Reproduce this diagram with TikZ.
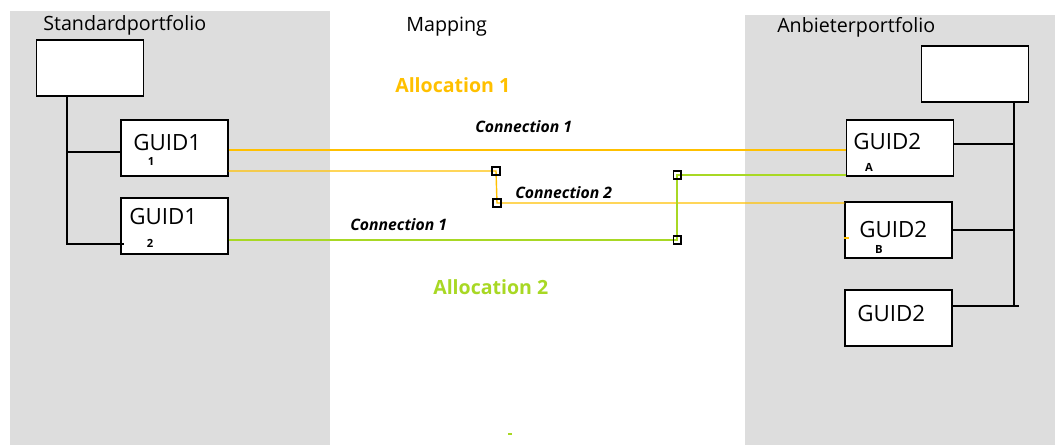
\documentclass[tikz,border=0pt]{standalone}
\usepackage{fontspec}
\setmainfont{Open Sans}
\usepackage{tikz}
\usetikzlibrary{positioning}

\definecolor{panelgray}{HTML}{DDDDDD}
\definecolor{allocyellow}{HTML}{FFC000}
\definecolor{allocgreen}{HTML}{A8D824}

\tikzset{
    guidbox/.style={draw, line width=1pt, fill=white, minimum width=2.675cm, minimum height=1.4cm, inner sep=0pt},
    guidtext/.style={anchor=west, inner sep=0pt, font=\fontsize{15.9}{16}\selectfont},
    subtext/.style={inner sep=0pt, font=\fontsize{8}{9}\selectfont\bfseries},
    headtext/.style={anchor=base west, inner sep=0pt, font=\fontsize{14}{15}\selectfont},
    conntext/.style={anchor=base west, inner sep=0pt, font=\fontsize{11.2}{12}\selectfont\bfseries\itshape},
    tree/.style={line width=1pt},
    yline/.style={allocyellow, line width=1pt},
    gline/.style={allocgreen, line width=1pt},
    handle/.style={draw, line width=1pt, minimum size=0.19cm, inner sep=0pt}
}

\begin{document}
\begin{tikzpicture}[x=0.025cm, y=-0.025cm]
    \useasboundingbox (0,0) rectangle (1055,445);

    % Portfolio panels
    \fill[panelgray] (10,11) rectangle (330,445);
    \fill[panelgray] (745,15) rectangle (1055,445);

    % Headings
    \node[headtext] (hstd) at (43,31) {Standardportfolio};
    \node[headtext] (hmap) at (406,32) {Mapping};
    \node[headtext] (hanb) at (777,33) {Anbieterportfolio};

    % Standard portfolio boxes
    \node[guidbox] (sroot) at (90,68) {};
    \node[guidbox] (s1) at (174.5,148) {};
    \node[guidbox] (s2) at (174.5,226) {};
    \node[guidtext] at (133,143) {GUID1};
    \node[subtext] at (151,161) {1};
    \node[guidtext] at (129,217) {GUID1};
    \node[subtext] at (150,243) {2};

    % Provider portfolio boxes
    \node[guidbox] (aroot) at (975,74) {};
    \node[guidbox] (a1) at (900,148) {};
    \node[guidbox] (a2) at (898.5,230) {};
    \node[guidbox] (a3) at (898.5,318) {};
    \node[guidtext] at (853,142) {GUID2};
    \node[subtext] at (869,167) {A};
    \node[guidtext] at (859,229.5) {GUID2};
    \node[subtext] at (879,249) {B};
    \node[guidtext] at (857,314) {GUID2};

    % Tree lines
    \coordinate (ltrunk) at (67,244);
    \draw[tree] (sroot.south -| ltrunk) -- (ltrunk) -- ++(57,0);
    \draw[tree] (ltrunk |- 0,152) -- (s1.west |- 0,152);
    \coordinate (rtrunk) at (1014,306);
    \draw[tree] (aroot.south -| rtrunk) -- (rtrunk) -- ++(5,0);
    \draw[tree] (a1.east |- 0,144) -- (rtrunk |- 0,144);
    \draw[tree] (a2.east) -- (rtrunk |- a2.east);
    \draw[tree] (a3.east |- rtrunk) -- (rtrunk);

    % Bend handles
    \node[handle] (h1) at (496,171) {};
    \node[handle] (h2) at (497,203) {};
    \node[handle] (h3) at (677,175) {};
    \node[handle] (h4) at (677,240) {};

    % Allocation 1
    \draw[yline] ([yshift=-0.05cm]s1.east) -- ([yshift=-0.05cm]a1.west);
    \draw[yline] (s1.east |- h1) -- (h1.center) -- (h2.center) -- (a2.west |- h2);
    \draw[yline] ([yshift=-0.2cm]a2.west) -- ++(5,0);

    % Allocation 2
    \draw[gline] (s2.east |- h4) -- (h4.center) -- (h3.center) -- (a1.west |- h3);
    \draw[gline] (508,434) -- (512,434);

    % Handles on top of the lines
    \foreach \h in {h1,h2,h3,h4}
        \node[handle] at (\h) {};

    % Labels
    \node[headtext, font=\fontsize{13.9}{14}\selectfont\bfseries, text=allocyellow] (alloc1) at (395,93) {Allocation 1};
    \node[headtext, font=\fontsize{13.9}{14}\selectfont\bfseries, text=allocgreen] (alloc2) at (433,295) {Allocation 2};
    \node[conntext] (conn1a) at (475,133) {Connection 1};
    \node[conntext] (conn2) at (515,199) {Connection 2};
    \node[conntext] (conn1b) at (350,231) {Connection 1};
\end{tikzpicture}
\end{document}
